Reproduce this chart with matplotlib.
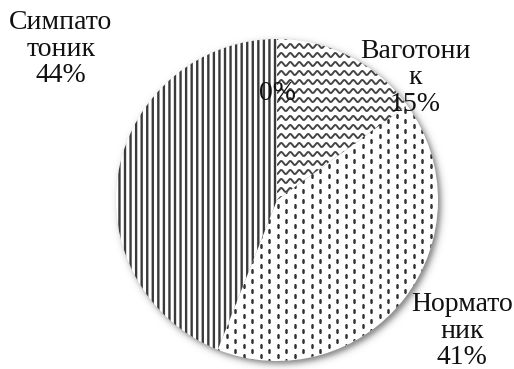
import numpy as np
import matplotlib
matplotlib.use("Agg")
import matplotlib.pyplot as plt

# Autonomic tone groups, clockwise from 12 o'clock
groups = ["", "Ваготони\nк", "Нормато\nник", "Симпато\nтоник"]
shares = [0, 15, 41, 44]

W, H = 514, 369
plt.rcParams["hatch.linewidth"] = 1.7
FONT = dict(family="Liberation Serif", size=20, color="#111111",
            ha="center", va="center", linespacing=1.1)

fig = plt.figure(figsize=(W / 100, H / 100), dpi=100)
ax = fig.add_axes([0, 0, 1, 1])

cx, cy, r = 277, 169, 161

# soft drop shadow under the disc
yy, xx = np.mgrid[0:H, 0:W] + 0.5
d = np.hypot(xx - (cx + 3), yy - (cy - 3))
shadow = np.zeros((H, W, 4))
shadow[..., 3] = 0.5 / (1 + np.exp((d - r) / 2.0))
ax.imshow(shadow, extent=(0, W, 0, H), origin="lower", zorder=0,
          interpolation="bilinear")

wedges, _ = ax.pie(shares, startangle=90, counterclock=False,
                   center=(cx, cy), radius=r, frame=True,
                   wedgeprops=dict(linewidth=0, facecolor="white"))
for w in wedges:
    w.set_zorder(1)

# vertical stripes
wedges[3].set_edgecolor("#3a3a3a")
wedges[3].set_hatch("|||")
wedges[3].set_linewidth(0)

# wavy lines
xs = np.arange(cx - r - 10, cx + r + 10, 0.5)
for y0 in np.arange(cy - r, cy + r + 9, 9):
    ln, = ax.plot(xs, y0 + 2.0 * np.sin(2 * np.pi * xs / 9),
                  color="#444444", lw=1.4, zorder=2)
    ln.set_clip_path(wedges[1])

# staggered short dashes
cols = np.arange(cx - r, cx + r + 9, 8.5)
px, py = [], []
for i, x0 in enumerate(cols):
    for y0 in np.arange(cy - r - 10, cy + r + 10, 10):
        px.append(x0)
        py.append(y0 + (i % 2) * 5)
dots, = ax.plot(px, py, ls="none", marker="|", ms=3.0, mew=1.8,
                color="#333333", zorder=2)
dots.set_clip_path(wedges[2])

# labels
label_xy = [(277, H - 93), (415, H - 78), (462, H - 331), (61, H - 49)]
for name, s, (lx, ly) in zip(groups, shares, label_xy):
    txt = f"{name}\n{s}%" if name else f"{s}%"
    ax.text(lx, ly, txt, zorder=5, **FONT)

ax.set_xlim(0, W)
ax.set_ylim(0, H)
ax.set_aspect("equal")
ax.axis("off")
fig.savefig("out.png", dpi=100)
